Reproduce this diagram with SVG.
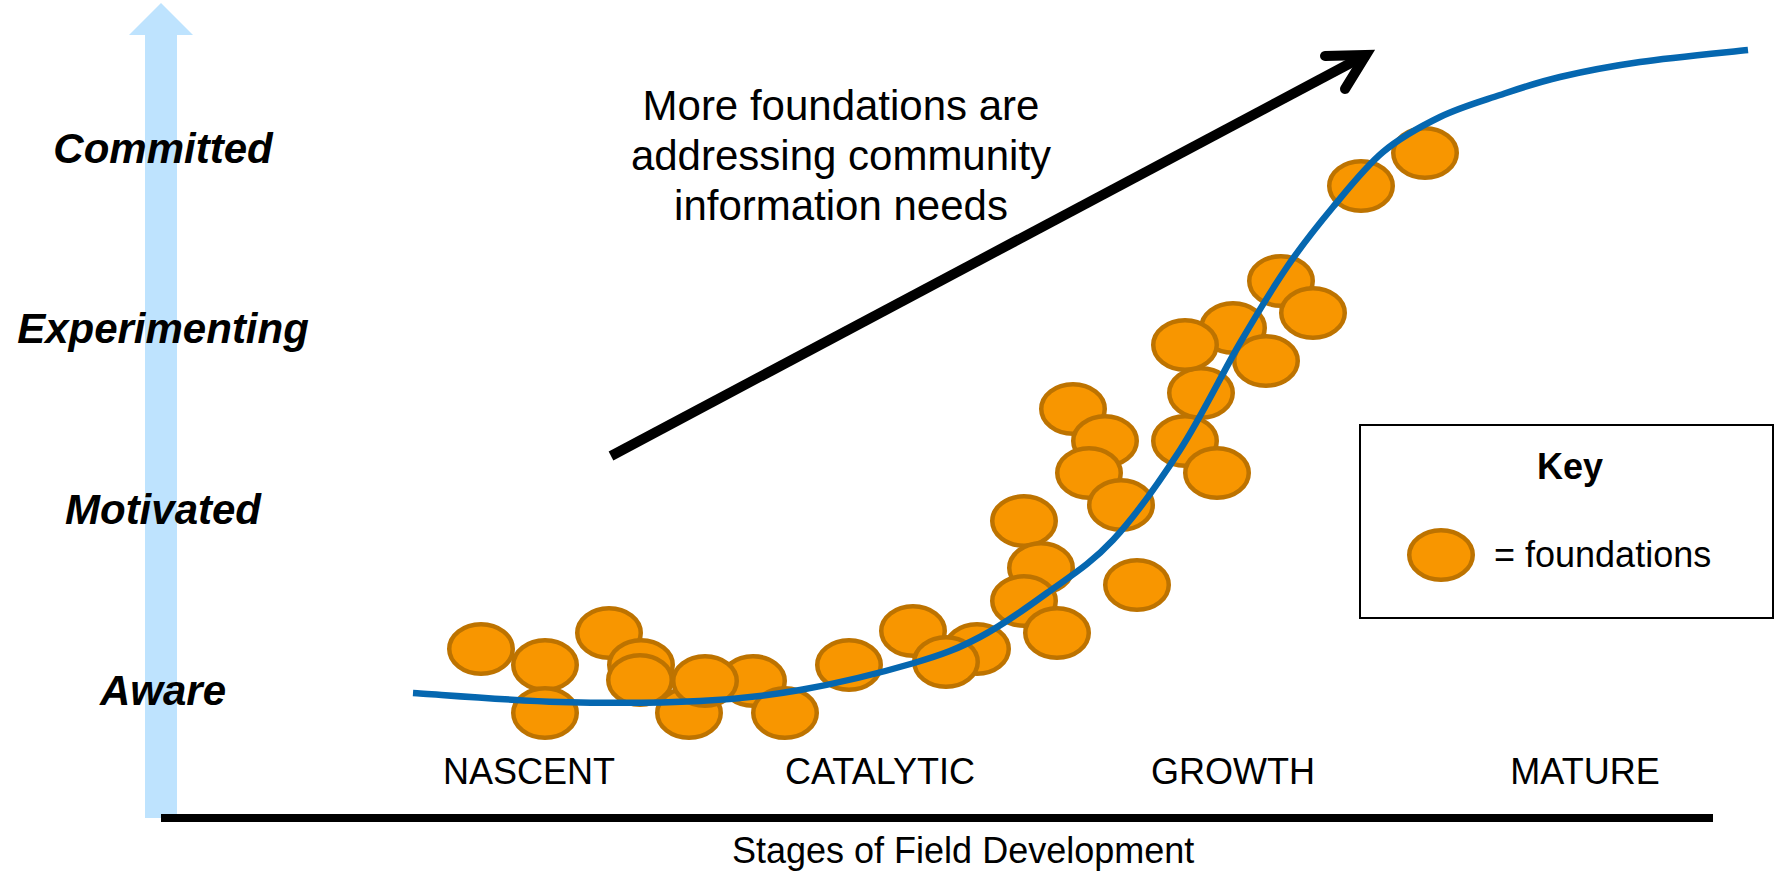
<svg xmlns="http://www.w3.org/2000/svg" width="1775" height="872" viewBox="0 0 1775 872">
  <style>
    .fdn { fill: #F89600; stroke: #BD7300; stroke-width: 4.5; }
    .level { font-family: "Liberation Sans", Arial, sans-serif; font-size: 42px; font-weight: bold; font-style: italic; fill: #000; text-anchor: middle; }
    .stage { font-family: "Liberation Sans", Arial, sans-serif; font-size: 36px; fill: #000; text-anchor: middle; }
    .note { font-family: "Liberation Sans", Arial, sans-serif; font-size: 42px; fill: #000; text-anchor: middle; }
    .curve { fill: none; stroke: #0567B0; stroke-width: 6.5; }
    .trend { fill: none; stroke: #000; stroke-width: 10; }
  </style>
  <defs>
    <ellipse id="foundation" cx="0" cy="0" rx="31.75" ry="24.75"/>
  </defs>

  <rect width="1775" height="872" fill="#fff"/>

  <!-- vertical engagement axis (light blue arrow) -->
  <g id="y-axis">
    <polygon points="161,3 193,35 177,35 177,818 145,818 145,35 129,35" fill="#BEE3FE"/>
  </g>

  <!-- horizontal stages axis -->
  <g id="x-axis">
    <line x1="161" y1="818" x2="1713" y2="818" stroke="#000" stroke-width="8"/>
  </g>

  <!-- engagement levels -->
  <g id="levels">
    <text class="level" x="163" y="163">Committed</text>
    <text class="level" x="163" y="343">Experimenting</text>
    <text class="level" x="163" y="524">Motivated</text>
    <text class="level" x="163" y="705">Aware</text>
  </g>

  <!-- stage labels -->
  <g id="stages">
    <text class="stage" x="529" y="784">NASCENT</text>
    <text class="stage" x="880" y="784">CATALYTIC</text>
    <text class="stage" x="1233" y="784">GROWTH</text>
    <text class="stage" x="1585" y="784">MATURE</text>
    <text class="stage" x="732" y="863" style="text-anchor:start">Stages of Field Development</text>
  </g>

  <!-- foundations scattered along the adoption curve -->
  <g id="foundations">
    <use href="#foundation" class="fdn" x="481" y="649"/>
    <use href="#foundation" class="fdn" x="545" y="665"/>
    <use href="#foundation" class="fdn" x="545" y="713"/>
    <use href="#foundation" class="fdn" x="609" y="633"/>
    <use href="#foundation" class="fdn" x="641" y="665"/>
    <use href="#foundation" class="fdn" x="640" y="680"/>
    <use href="#foundation" class="fdn" x="689" y="713"/>
    <use href="#foundation" class="fdn" x="753" y="681"/>
    <use href="#foundation" class="fdn" x="705" y="681"/>
    <use href="#foundation" class="fdn" x="785" y="713"/>
    <use href="#foundation" class="fdn" x="849" y="665"/>
    <use href="#foundation" class="fdn" x="913" y="631"/>
    <use href="#foundation" class="fdn" x="977" y="649"/>
    <use href="#foundation" class="fdn" x="946" y="662"/>
    <use href="#foundation" class="fdn" x="1024" y="521"/>
    <use href="#foundation" class="fdn" x="1041" y="568"/>
    <use href="#foundation" class="fdn" x="1024" y="601"/>
    <use href="#foundation" class="fdn" x="1057" y="633"/>
    <use href="#foundation" class="fdn" x="1137" y="585"/>
    <use href="#foundation" class="fdn" x="1073" y="409"/>
    <use href="#foundation" class="fdn" x="1105" y="441"/>
    <use href="#foundation" class="fdn" x="1089" y="473"/>
    <use href="#foundation" class="fdn" x="1121" y="505"/>
    <use href="#foundation" class="fdn" x="1185" y="441"/>
    <use href="#foundation" class="fdn" x="1217" y="473"/>
    <use href="#foundation" class="fdn" x="1201" y="393"/>
    <use href="#foundation" class="fdn" x="1233" y="328"/>
    <use href="#foundation" class="fdn" x="1185" y="345"/>
    <use href="#foundation" class="fdn" x="1266" y="361"/>
    <use href="#foundation" class="fdn" x="1281" y="281"/>
    <use href="#foundation" class="fdn" x="1313" y="313"/>
    <use href="#foundation" class="fdn" x="1361" y="186"/>
    <use href="#foundation" class="fdn" x="1425" y="153"/>
  </g>

  <!-- connectors: adoption S-curve and trend arrow -->
  <g id="connectors">
    <path class="curve" d="M413,693 C437.5,694.5 512.2,700.7 560,702 C607.8,703.3 660,703 700,701 C740,699 764.3,696.3 800,690 C835.7,683.7 884,671.8 914,663 C944,654.2 957.8,648.7 980,637 C1002.2,625.3 1024.8,609.2 1047,593 C1069.2,576.8 1090.8,563.8 1113,540 C1135.2,516.2 1158.8,482.8 1180,450 C1201.2,417.2 1222.2,373.5 1240,343 C1257.8,312.5 1271.5,289.7 1287,267 C1302.5,244.3 1317,226.2 1333,207 C1349,187.8 1365.2,167 1383,152 C1400.8,137 1420.5,126.5 1440,117 C1459.5,107.5 1480,101.7 1500,95 C1520,88.3 1536.7,82.5 1560,77 C1583.3,71.5 1608.7,66.5 1640,62 C1671.3,57.5 1730,52 1748,50"/>
    <line class="trend" x1="611" y1="456" x2="1362" y2="57" stroke-linecap="butt"/>
    <path class="trend" d="M1325,56 L1366,55 L1345,89" stroke-width="11" stroke-linejoin="miter" stroke-miterlimit="10" stroke-linecap="round"/>
  </g>

  <!-- annotation -->
  <g id="annotation">
    <text class="note" x="841" y="120">More foundations are</text>
    <text class="note" x="841" y="170">addressing community</text>
    <text class="note" x="841" y="220">information needs</text>
  </g>

  <!-- legend -->
  <g id="key">
    <rect x="1360" y="425" width="413" height="193" fill="#fff" stroke="#000" stroke-width="2"/>
    <text x="1570" y="479" style="font-family:'Liberation Sans',Arial,sans-serif;font-size:36px;font-weight:bold;text-anchor:middle">Key</text>
    <use href="#foundation" class="fdn" x="1441" y="555"/>
    <text x="1494" y="567" style="font-family:'Liberation Sans',Arial,sans-serif;font-size:36px">= foundations</text>
  </g>
</svg>
